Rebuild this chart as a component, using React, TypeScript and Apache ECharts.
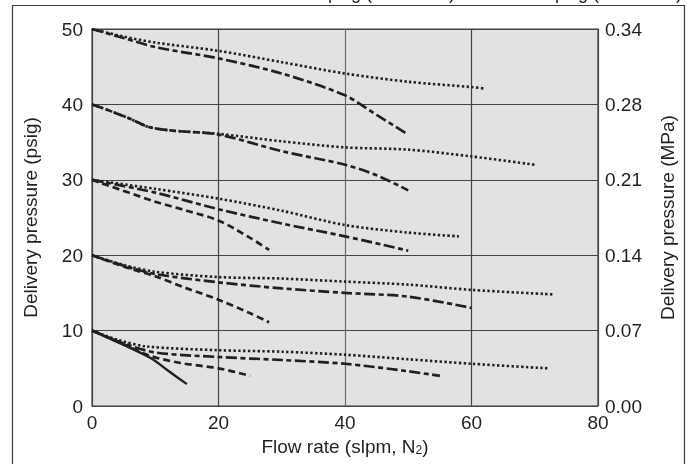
import React, { useEffect, useRef } from "react";
import * as echarts from "echarts";

// Flow rate (slpm, N2) vs delivery pressure (psig)
const xTicks = [0, 20, 40, 60, 80];
const psigTicks = [0, 10, 20, 30, 40, 50];
const mpaLabels = ["0.00", "0.07", "0.14", "0.21", "0.28", "0.34"];

// 50 psig set point
const dotted50 = [[0, 50], [5, 49], [10, 48.2], [20, 47.1], [30, 45.6], [40, 44.1], [50, 43], [60, 42.3], [62, 42.1]];
const dashDot50 = [[0, 50], [5, 48.8], [10, 47.6], [20, 46.1], [30, 44.1], [40, 41.2], [45, 38.6], [50, 36]];
// 40 psig set point
const dotted40 = [[0, 40], [3, 39.1], [6, 38.1], [9, 37], [13, 36.5], [20, 36.1], [30, 35.1], [40, 34.3], [50, 34], [60, 33.1], [70, 32]];
const dashDot40 = [[0, 40], [3, 39.1], [6, 38.1], [9, 37], [13, 36.5], [20, 36], [30, 33.8], [40, 32], [45, 30.6], [50, 28.6]];
// 30 psig set point
const dotted30 = [[0, 30], [10, 28.8], [20, 27.5], [30, 25.9], [40, 24], [50, 23], [58, 22.5]];
const dashDot30 = [[0, 30], [10, 28.3], [20, 26.1], [30, 24.2], [40, 22.5], [50, 20.6]];
const dashed30 = [[0, 30], [10, 27.1], [15, 25.9], [20, 24.6], [25, 22.3], [28, 20.7]];
// 20 psig set point
const dotted20 = [[0, 20], [5, 18.7], [10, 17.8], [20, 17.1], [30, 16.9], [40, 16.5], [50, 16.1], [60, 15.4], [73, 14.8]];
const dashDot20 = [[0, 20], [5, 18.6], [10, 17.5], [20, 16.4], [30, 15.6], [40, 15], [50, 14.5], [60, 13]];
const dashed20 = [[0, 20], [5, 18.5], [10, 17.2], [15, 15.6], [20, 14.1], [25, 12.3], [28, 11.1]];
// 10 psig set point
const dotted10 = [[0, 10], [4, 8.8], [8.6, 7.9], [20, 7.4], [30, 7.2], [40, 6.8], [50, 6.2], [60, 5.6], [72, 5]];
const dashDot10 = [[0, 10], [5, 8.3], [10, 7.1], [20, 6.5], [30, 6.1], [40, 5.6], [50, 4.6], [55, 4]];
const dashed10 = [[0, 10], [5, 8.2], [9, 6.7], [14, 5.7], [20, 5], [25, 4]];
const solid10 = [[0, 10], [5, 8.1], [9.4, 6.3], [12, 4.7], [15, 2.9]];

const topTexts = ["100 psig (0.69 MPa)", "250 psig (1.72 MPa)"];

const INK = "#231f20";
const FONT = "'Liberation Sans', Arial, sans-serif";

const styles: Record<string, any> = {
  dotted: { type: [2.4, 2.4], width: 2.6 },
  dashDot: { type: [11, 3.5, 5, 3.5], width: 2.7 },
  dashed: { type: [7, 4], width: 2.7 },
  solid: { type: "solid", width: 2.4 },
};

const seriesDefs: [string, number[][], string][] = [
  ["dotted50", dotted50, "dotted"],
  ["dashDot50", dashDot50, "dashDot"],
  ["dotted40", dotted40, "dotted"],
  ["dashDot40", dashDot40, "dashDot"],
  ["dotted30", dotted30, "dotted"],
  ["dashDot30", dashDot30, "dashDot"],
  ["dashed30", dashed30, "dashed"],
  ["dotted20", dotted20, "dotted"],
  ["dashDot20", dashDot20, "dashDot"],
  ["dashed20", dashed20, "dashed"],
  ["dotted10", dotted10, "dotted"],
  ["dashDot10", dashDot10, "dashDot"],
  ["dashed10", dashed10, "dashed"],
  ["solid10", solid10, "solid"],
];

export default function App() {
  const ref = useRef<HTMLDivElement>(null);
  useEffect(() => {
    if (!ref.current) return;
    const chart = echarts.init(ref.current, null, { renderer: "svg" });
    chart.setOption({
      animation: false,
      textStyle: { fontFamily: FONT },
      grid: {
        left: 92,
        right: 96,
        top: 29,
        bottom: 58,
        show: true,
        backgroundColor: "#e1e2e4",
        borderColor: "#3c3c3c",
        borderWidth: 1.2,
      },
      xAxis: {
        type: "value",
        min: xTicks[0],
        max: xTicks[xTicks.length - 1],
        interval: 20,
        name: "Flow rate (slpm, N{sub|2})",
        nameLocation: "middle",
        nameGap: 26,
        nameTextStyle: {
          fontSize: 19,
          color: INK,
          fontFamily: FONT,
          rich: { sub: { fontSize: 12, color: INK, fontFamily: FONT, padding: [8, 0, 0, 0] } },
        },
        axisLine: { show: false },
        axisTick: { show: false },
        axisLabel: { fontSize: 19, color: INK, margin: 7, fontFamily: FONT },
        splitLine: { lineStyle: { color: ["#444", "#444", "#6a6a6a", "#444", "#444"], width: 1.2 } },
      },
      yAxis: [
        {
          type: "value",
          min: psigTicks[0],
          max: psigTicks[psigTicks.length - 1],
          interval: 10,
          name: "Delivery pressure (psig)",
          nameLocation: "middle",
          nameGap: 52,
          nameTextStyle: { fontSize: 19, color: INK, fontFamily: FONT },
          axisLine: { show: false },
          axisTick: { show: false },
          axisLabel: { fontSize: 19, color: INK, margin: 9, fontFamily: FONT },
          splitLine: { lineStyle: { color: "#444", width: 1.2 } },
        },
        {
          type: "value",
          position: "right",
          min: psigTicks[0],
          max: psigTicks[psigTicks.length - 1],
          interval: 10,
          name: "Delivery pressure (MPa)",
          nameLocation: "middle",
          nameGap: 60,
          nameRotate: 90,
          nameTextStyle: { fontSize: 19, color: INK, fontFamily: FONT },
          axisLine: { show: false },
          axisTick: { show: false },
          axisLabel: {
            fontSize: 19,
            color: INK,
            margin: 7,
            fontFamily: FONT,
            formatter: (v: number) => mpaLabels[Math.round(v / 10)],
          },
          splitLine: { show: false },
        },
      ],
      graphic: [
        {
          type: "rect",
          shape: { x: 12.5, y: 5.5, width: 672, height: 470 },
          style: { fill: "none", stroke: "#3c3c3c", lineWidth: 1.2 },
          silent: true,
        },
        {
          type: "text",
          x: 455,
          y: -7,
          style: { text: topTexts[0], fontSize: 18, fontFamily: FONT, fill: INK, textAlign: "right", textVerticalAlign: "middle" },
        },
        {
          type: "text",
          x: 682,
          y: -7,
          style: { text: topTexts[1], fontSize: 18, fontFamily: FONT, fill: INK, textAlign: "right", textVerticalAlign: "middle" },
        },
      ],
      series: seriesDefs.map(([name, data, st]) => ({
        name,
        type: "line",
        data,
        showSymbol: false,
        symbol: "none",
        smooth: 0.3,
        lineStyle: { color: INK, ...styles[st] },
      })),
    });
    return () => chart.dispose();
  }, []);
  return <div ref={ref} style={{ position: "fixed", left: 0, top: 0, width: 694, height: 464 }} />;
}
